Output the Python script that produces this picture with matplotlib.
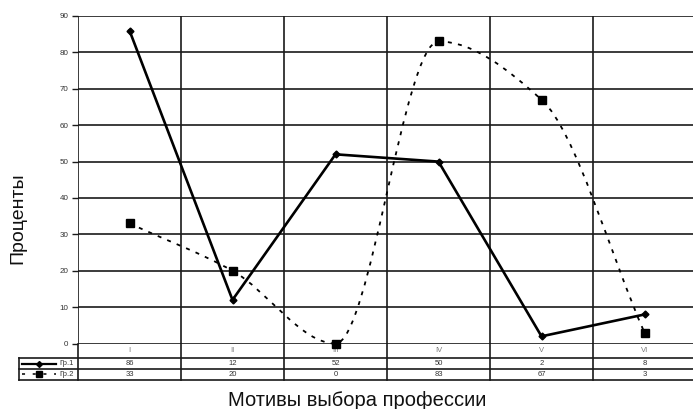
import numpy as np
import matplotlib.pyplot as plt
from matplotlib.path import Path
from matplotlib.patches import PathPatch
from matplotlib.lines import Line2D
import matplotlib.transforms as mtransforms

# données
categories = ['I', 'II', 'III', 'IV', 'V', 'VI']
gr1 = [86, 12, 52, 50, 2, 8]
gr2 = [33, 20, 0, 83, 67, 3]
series_names = ['Гр.1', 'Гр.2']
y_ticks = [0, 10, 20, 30, 40, 50, 60, 70, 80, 90]

W, H = 693, 409
plt.rcParams['font.family'] = ['Liberation Sans', 'DejaVu Sans']


def courbe_lisse(xs, ys):
    """Chemin de Bezier lissé (pentes monotones) passant par les points"""
    xs = np.asarray(xs, float)
    ys = np.asarray(ys, float)
    n = len(xs)
    d = np.diff(ys) / np.diff(xs)
    m = np.zeros(n)
    m[0], m[-1] = d[0], d[-1]
    for k in range(1, n - 1):
        if d[k - 1] * d[k] > 0:
            m[k] = 2 / (1 / d[k - 1] + 1 / d[k])
    verts = [(xs[0], ys[0])]
    codes = [Path.MOVETO]
    for i in range(n - 1):
        h = xs[i + 1] - xs[i]
        verts += [(xs[i] + h / 3, ys[i] + m[i] * h / 3),
                  (xs[i + 1] - h / 3, ys[i + 1] - m[i + 1] * h / 3),
                  (xs[i + 1], ys[i + 1])]
        codes += [Path.CURVE4] * 3
    return Path(verts, codes)


fig = plt.figure(figsize=(W / 100, H / 100), dpi=100)

# zone du graphique en pixels
x0, x1 = 78, 696
y_top, y_zero = 16, 343.6
ax = fig.add_axes([x0 / W, 1 - y_zero / H, (x1 - x0) / W, (y_zero - y_top) / H])
ax.set_xlim(0, len(categories))
ax.set_ylim(0, 90)

grid_col = '#1a1a1a'
for v in y_ticks:
    ax.axhline(v, color=grid_col, lw=1.2, zorder=1)
for k in range(len(categories) + 1):
    ax.axvline(k, color=grid_col, lw=1.2, zorder=1)

for s in ax.spines.values():
    s.set_visible(False)
ax.set_xticks([])
ax.set_yticks(y_ticks)
ax.set_yticklabels([str(v) for v in y_ticks], fontsize=5.8, color='#333333')
ax.tick_params(axis='y', length=4, width=1.0, color=grid_col, pad=3)

xc = np.arange(len(categories)) + 0.5

# Гр.2 : courbe lissée pointillée
chemin = courbe_lisse(xc, gr2)
ax.add_patch(PathPatch(chemin, facecolor='none', edgecolor='black', lw=1.3,
                       linestyle=(0, (2.2, 3.5)), zorder=3, clip_on=False))
ax.plot(xc, gr2, linestyle='none', marker='s', ms=6, color='black', zorder=4,
        clip_on=False)

# Гр.1 : ligne pleine
ax.plot(xc, gr1, color='black', lw=1.9, marker='D', ms=3.5, zorder=5, clip_on=False)

# tableau de données sous le graphique
px = (y_zero - y_top)
def yfrac(ypix):
    return (y_zero - ypix) / px

trans = mtransforms.blended_transform_factory(ax.transData, ax.transAxes)
x_left = (19 - x0) / (x1 - x0) * len(categories)
row_y = [yfrac(358), yfrac(369), yfrac(379.5)]

for k in range(len(categories) + 1):
    ax.add_line(Line2D([k, k], [0, row_y[-1]], transform=trans, color=grid_col,
                       lw=1.2, clip_on=False))
ax.add_line(Line2D([x_left, x_left], [row_y[0], row_y[-1]], transform=trans,
                   color=grid_col, lw=1.2, clip_on=False))
for yy in row_y:
    ax.add_line(Line2D([x_left, len(categories)], [yy, yy], transform=trans,
                       color=grid_col, lw=1.2, clip_on=False))

for i, c in enumerate(categories):
    ax.text(xc[i], yfrac(350.5), c, transform=trans, ha='center', va='center',
            fontsize=5.5, color='#7a7a7a')
    ax.text(xc[i], (row_y[0] + row_y[1]) / 2, str(gr1[i]), transform=trans,
            ha='center', va='center', fontsize=5.5, color='#333333')
    ax.text(xc[i], (row_y[1] + row_y[2]) / 2, str(gr2[i]), transform=trans,
            ha='center', va='center', fontsize=5.5, color='#333333')

# légende dans le tableau
ym1 = (row_y[0] + row_y[1]) / 2
ym2 = (row_y[1] + row_y[2]) / 2
lx = [x_left + 0.03, x_left + 0.36]
ax.add_line(Line2D(lx, [ym1, ym1], transform=trans, color='black', lw=1.6, clip_on=False))
ax.add_line(Line2D([np.mean(lx)], [ym1], transform=trans, color='black', marker='D',
                   ms=3, clip_on=False))
ax.add_line(Line2D(lx, [ym2, ym2], transform=trans, color='black', lw=1.1,
                   linestyle=(0, (2, 5)), clip_on=False))
ax.add_line(Line2D([np.mean(lx)], [ym2], transform=trans, color='black', marker='s',
                   ms=4.5, clip_on=False))
for yy, nom in zip([ym1, ym2], series_names):
    ax.text(x_left + 0.39, yy, nom, transform=trans, ha='left', va='center',
            fontsize=5.5, color='#333333')

# titres des axes
fig.text(18 / W, 1 - 218 / H, 'Проценты', rotation=90, ha='center', va='center',
         fontsize=14, color='#111111')
fig.text(357 / W, 1 - 400 / H, 'Мотивы выбора профессии', ha='center', va='center',
         fontsize=14.5, color='#111111')

fig.savefig('out.png', dpi=100)
